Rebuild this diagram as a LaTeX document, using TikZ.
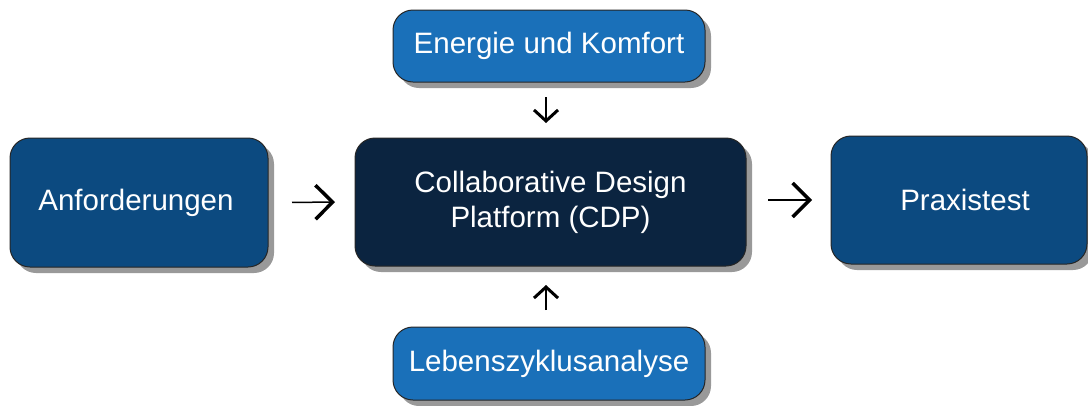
\documentclass[tikz,border=0pt]{standalone}
\usepackage{fontspec}
\setmainfont{Liberation Sans}
\usetikzlibrary{shadows,arrows.meta}
\definecolor{lightblue}{RGB}{26,112,185}
\definecolor{midblue}{RGB}{12,74,128}
\definecolor{darkblue}{RGB}{11,36,64}
\tikzset{
  box/.style={draw=black!85, line width=1pt, rounded corners=20pt, inner sep=0pt, outer sep=0pt,
    text=white, align=center, font=\fontsize{29.5}{35}\selectfont,
    drop shadow={shadow xshift=6pt, shadow yshift=-6pt, fill=black!40, opacity=1}},
  harr/.style={draw=black, line width=1.5pt, -{Straight Barb[length=17pt,width=34pt,line width=3.5pt 0]}},
  varr/.style={draw=black, line width=1.5pt, -{Straight Barb[length=11pt,width=24pt,line width=3pt 0]}}
}
\begin{document}
\begin{tikzpicture}[x=1pt,y=-1pt]
\useasboundingbox (0,0) rectangle (1088,405);
\node[box, fill=lightblue, minimum width=312pt, minimum height=72pt] (top) at (549,46) {Energie und Komfort};
\node[box, fill=darkblue, minimum width=391pt, minimum height=128pt] (cdp) at (550.5,202) {Collaborative Design\\Platform (CDP)};
\node[box, fill=midblue, minimum width=258pt, minimum height=129pt] (left) at (139,202.5) {Anforderungen\hspace*{6pt}};
\node[box, fill=midblue, minimum width=256pt, minimum height=128pt] (right) at (959,200) {\hspace*{12pt}Praxistest};
\node[box, fill=lightblue, minimum width=312pt, minimum height=73pt] (bot) at (549,363.5) {Lebenszyklusanalyse};
\draw[harr, shorten <=24pt, shorten >=20pt] (left.east) -- (cdp.west);
\draw[harr, shorten <=22pt, shorten >=19pt] (cdp.east |- right.west) -- (right.west);
\draw[varr, shorten <=15pt, shorten >=15pt] ([xshift=-3pt]top.south) -- ([xshift=-3pt]top.south |- cdp.north);
\draw[varr, shorten <=17pt, shorten >=19pt] ([xshift=-3pt]bot.north) -- ([xshift=-3pt]bot.north |- cdp.south);
\end{tikzpicture}
\end{document}
